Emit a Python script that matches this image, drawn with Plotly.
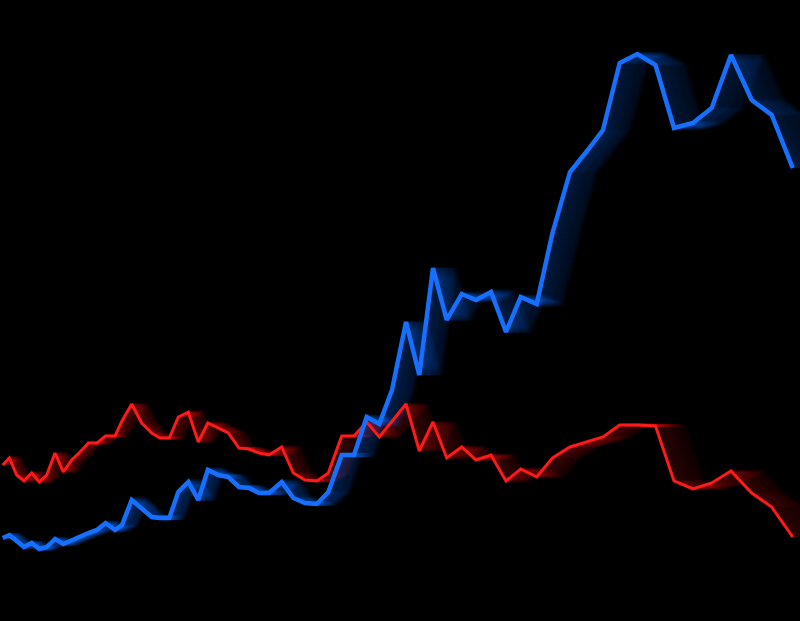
import numpy as np
import plotly.graph_objects as go

# horizontal position of each sample (spacing widens to the right)
x_pos = [2.7, 9.3, 16.7, 24, 31.7, 39.3, 46.7, 55, 63.3, 71.7,
         80, 88.3, 97, 105.5, 115, 122, 131.7, 141.7, 151.7, 160,
         169.3, 178.3, 188.3, 198.3, 207.8, 218.3, 228.3, 239, 249, 259,
         269, 281.7, 293.3, 305, 317, 328.3, 341.7, 354, 366.7, 379.3,
         392, 406, 419.3, 433, 446.7, 461.7, 476, 491, 506, 520.7,
         536.7, 552.5, 570, 587, 603, 619.7, 637.3, 655.5, 674, 693,
         711.7, 731, 751.7, 771.7, 792.7]

red_values = [156, 163, 146, 140, 148, 139, 146, 168, 149, 161,
              169, 178, 178, 185, 185, 200, 217, 198, 188, 183,
              183, 204, 209, 179, 198, 193, 188, 173, 172, 168,
              166, 174, 148, 141, 140, 148, 185, 185, 199, 184,
              200, 217, 170, 199, 163, 174, 161, 166, 140, 152,
              144, 163, 174, 179, 184, 196, 196, 195, 140, 132,
              138, 150, 128, 114, 84]

blue_values = [83, 86, 80, 74, 78, 72, 74, 82, 77, 81,
               84, 88, 91, 98, 91, 96, 121, 113, 104, 103,
               103, 129, 139, 121, 151, 146, 144, 134, 133, 128,
               128, 139, 123, 118, 117, 129, 166, 166, 204, 197,
               231, 299, 246, 353, 301, 327, 321, 329, 289, 324,
               317, 388, 449, 470, 491, 558, 567, 556, 493, 498,
               513, 566, 521, 506, 453]

RED = "#ff1a1a"
BLUE = "#1670ff"


def shifted_x(shift):
    # x positions moved right by `shift` samples (motion trail)
    idx = np.arange(len(x_pos))
    xp = np.array(x_pos, dtype=float)
    ext_idx = np.append(idx, len(xp) + 5)
    ext_x = np.append(xp, xp[-1] + 5 * (xp[-1] - xp[-2]))
    return np.interp(idx + shift, ext_idx, ext_x)


fig = go.Figure()

n_ghosts = 28
max_shift = 1.6
for values, color, width in [(red_values, RED, 3), (blue_values, BLUE, 4.5)]:
    for k in range(n_ghosts, 0, -1):
        frac = k / n_ghosts
        fig.add_trace(
            go.Scatter(
                x=shifted_x(frac * max_shift),
                y=values,
                mode="lines",
                line=dict(color=color, width=width),
                opacity=0.035 * (1 - frac) + 0.02,
                hoverinfo="skip",
            )
        )

fig.add_trace(go.Scatter(x=x_pos, y=red_values, mode="lines",
                         line=dict(color=RED, width=3)))
fig.add_trace(go.Scatter(x=x_pos, y=blue_values, mode="lines",
                         line=dict(color=BLUE, width=4.5)))

fig.update_xaxes(range=[0, 800], visible=False)
fig.update_yaxes(range=[0, 621], visible=False)
fig.update_layout(
    width=800,
    height=621,
    margin=dict(l=0, r=0, t=0, b=0),
    paper_bgcolor="black",
    plot_bgcolor="black",
    showlegend=False,
)

fig.write_html(
    "out.html",
    config={"displayModeBar": False},
    post_script="document.body.style.margin='0';"
                "document.body.style.background='black';",
)
